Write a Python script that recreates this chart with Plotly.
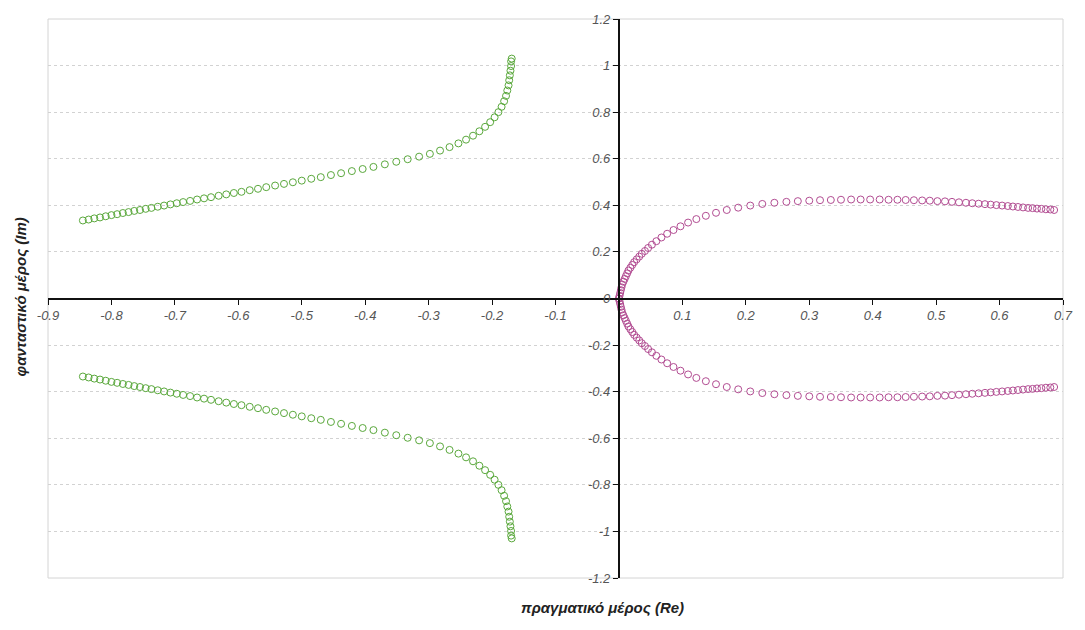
import plotly.graph_objects as go

# Green branch (upper)
green_up_x = [-0.845, -0.836, -0.827, -0.818, -0.809, -0.800, -0.791, -0.782, -0.773, -0.764,
              -0.755, -0.746, -0.737, -0.727, -0.717, -0.707, -0.697, -0.687, -0.676, -0.665,
              -0.654, -0.643, -0.631, -0.619, -0.607, -0.595, -0.582, -0.569, -0.556, -0.542,
              -0.528, -0.514, -0.500, -0.485, -0.470, -0.454, -0.438, -0.421, -0.404, -0.387,
              -0.369, -0.351, -0.333, -0.315, -0.298, -0.282, -0.267, -0.253, -0.241, -0.230,
              -0.220, -0.211, -0.203, -0.196, -0.190, -0.185, -0.181, -0.178, -0.176, -0.174,
              -0.173, -0.172, -0.171, -0.170, -0.170, -0.169]
green_up_y = [0.335, 0.339, 0.344, 0.348, 0.353, 0.358, 0.362, 0.367, 0.371, 0.376,
              0.380, 0.385, 0.389, 0.394, 0.399, 0.404, 0.409, 0.414, 0.419, 0.425,
              0.430, 0.435, 0.441, 0.447, 0.453, 0.458, 0.465, 0.471, 0.478, 0.485,
              0.492, 0.499, 0.506, 0.514, 0.521, 0.530, 0.538, 0.547, 0.556, 0.565,
              0.576, 0.587, 0.598, 0.609, 0.621, 0.635, 0.650, 0.666, 0.682, 0.699,
              0.718, 0.737, 0.757, 0.778, 0.800, 0.823, 0.847, 0.870, 0.893, 0.915,
              0.937, 0.958, 0.978, 0.998, 1.018, 1.030]

# Green branch (lower)
green_lo_x = [-0.845, -0.836, -0.827, -0.818, -0.809, -0.800, -0.791, -0.782, -0.773, -0.764,
              -0.755, -0.746, -0.737, -0.727, -0.717, -0.707, -0.697, -0.687, -0.676, -0.665,
              -0.654, -0.643, -0.631, -0.619, -0.607, -0.595, -0.582, -0.569, -0.556, -0.542,
              -0.528, -0.514, -0.500, -0.485, -0.470, -0.454, -0.438, -0.421, -0.404, -0.387,
              -0.369, -0.351, -0.333, -0.315, -0.298, -0.282, -0.267, -0.253, -0.241, -0.230,
              -0.220, -0.211, -0.203, -0.196, -0.190, -0.185, -0.181, -0.178, -0.176, -0.174,
              -0.173, -0.172, -0.171, -0.170, -0.170, -0.169]
green_lo_y = [-0.335, -0.339, -0.344, -0.348, -0.353, -0.358, -0.362, -0.367, -0.371, -0.376,
              -0.380, -0.385, -0.389, -0.394, -0.399, -0.404, -0.409, -0.414, -0.419, -0.425,
              -0.430, -0.435, -0.441, -0.447, -0.453, -0.458, -0.465, -0.471, -0.478, -0.485,
              -0.492, -0.499, -0.506, -0.514, -0.521, -0.530, -0.538, -0.547, -0.556, -0.565,
              -0.576, -0.587, -0.598, -0.609, -0.621, -0.635, -0.650, -0.666, -0.682, -0.699,
              -0.718, -0.737, -0.757, -0.778, -0.800, -0.823, -0.847, -0.870, -0.893, -0.915,
              -0.937, -0.958, -0.978, -0.998, -1.018, -1.030]

# Pink branch (upper)
pink_up_x = [0.000, 0.001, 0.002, 0.003, 0.004, 0.005, 0.007, 0.009, 0.011, 0.013,
             0.015, 0.018, 0.021, 0.024, 0.028, 0.032, 0.036, 0.041, 0.046, 0.052,
             0.059, 0.067, 0.076, 0.086, 0.097, 0.109, 0.122, 0.137, 0.153, 0.170,
             0.188, 0.207, 0.226, 0.245, 0.264, 0.282, 0.300, 0.317, 0.334, 0.350,
             0.366, 0.381, 0.396, 0.411, 0.425, 0.439, 0.452, 0.465, 0.478, 0.490,
             0.502, 0.514, 0.525, 0.536, 0.547, 0.557, 0.567, 0.577, 0.586, 0.595,
             0.604, 0.613, 0.621, 0.629, 0.637, 0.645, 0.652, 0.659, 0.666, 0.673,
             0.680, 0.686]
pink_up_y = [0.000, 0.012, 0.024, 0.036, 0.048, 0.060, 0.072, 0.084, 0.096, 0.108,
             0.120, 0.132, 0.144, 0.156, 0.168, 0.180, 0.192, 0.204, 0.217, 0.231,
             0.246, 0.262, 0.278, 0.294, 0.310, 0.326, 0.341, 0.355, 0.368, 0.380,
             0.390, 0.399, 0.406, 0.411, 0.415, 0.418, 0.420, 0.422, 0.423, 0.424,
             0.425, 0.425, 0.425, 0.425, 0.424, 0.424, 0.423, 0.422, 0.421, 0.420,
             0.418, 0.417, 0.415, 0.413, 0.411, 0.409, 0.407, 0.405, 0.403, 0.401,
             0.399, 0.397, 0.395, 0.393, 0.391, 0.389, 0.388, 0.386, 0.385, 0.383,
             0.382, 0.380]

# Pink branch (lower)
pink_lo_x = [0.000, 0.001, 0.002, 0.003, 0.004, 0.005, 0.007, 0.009, 0.011, 0.013,
             0.015, 0.018, 0.021, 0.024, 0.028, 0.032, 0.036, 0.041, 0.046, 0.052,
             0.059, 0.067, 0.076, 0.086, 0.097, 0.109, 0.122, 0.137, 0.153, 0.170,
             0.188, 0.207, 0.226, 0.245, 0.264, 0.282, 0.300, 0.317, 0.334, 0.350,
             0.366, 0.381, 0.396, 0.411, 0.425, 0.439, 0.452, 0.465, 0.478, 0.490,
             0.502, 0.514, 0.525, 0.536, 0.547, 0.557, 0.567, 0.577, 0.586, 0.595,
             0.604, 0.613, 0.621, 0.629, 0.637, 0.645, 0.652, 0.659, 0.666, 0.673,
             0.680, 0.686]
pink_lo_y = [-0.000, -0.012, -0.024, -0.036, -0.048, -0.060, -0.072, -0.084, -0.096, -0.108,
             -0.120, -0.132, -0.144, -0.156, -0.168, -0.180, -0.192, -0.204, -0.217, -0.231,
             -0.246, -0.262, -0.278, -0.294, -0.310, -0.326, -0.341, -0.355, -0.368, -0.380,
             -0.390, -0.399, -0.406, -0.411, -0.415, -0.418, -0.420, -0.422, -0.423, -0.424,
             -0.425, -0.425, -0.425, -0.425, -0.424, -0.424, -0.423, -0.422, -0.421, -0.420,
             -0.418, -0.417, -0.415, -0.413, -0.411, -0.409, -0.407, -0.405, -0.403, -0.401,
             -0.399, -0.397, -0.395, -0.393, -0.391, -0.389, -0.388, -0.386, -0.385, -0.383,
             -0.382, -0.380]

x_tickvals = [-0.9, -0.8, -0.7, -0.6, -0.5, -0.4, -0.3, -0.2, -0.1, 0.1, 0.2, 0.3, 0.4, 0.5, 0.6, 0.7]
x_ticktext = ["-0.9", "-0.8", "-0.7", "-0.6", "-0.5", "-0.4", "-0.3", "-0.2", "-0.1",
              "0.1", "0.2", "0.3", "0.4", "0.5", "0.6", "0.7"]
y_tickvals = [1.2, 1.0, 0.8, 0.6, 0.4, 0.2, 0.0, -0.2, -0.4, -0.6, -0.8, -1.0, -1.2]
y_ticktext = ["1.2", "1", "0.8", "0.6", "0.4", "0.2", "0", "-0.2", "-0.4", "-0.6", "-0.8", "-1", "-1.2"]

GREEN = "#5aa83c"
PINK = "#b24c92"

fig = go.Figure()
for xs, ys, col in [(green_up_x, green_up_y, GREEN), (green_lo_x, green_lo_y, GREEN),
                    (pink_up_x, pink_up_y, PINK), (pink_lo_x, pink_lo_y, PINK)]:
    fig.add_trace(go.Scatter(x=xs, y=ys, mode="markers",
                             marker=dict(symbol="circle-open", size=7, color=col,
                                         line=dict(width=1, color=col)),
                             showlegend=False, hoverinfo="x+y"))

tickfont = dict(family="Liberation Sans, Arial, sans-serif", size=13, color="#555555", style="italic")

fig.update_layout(
    width=1085, height=630,
    margin=dict(l=48, r=13, t=15, b=52),
    paper_bgcolor="white", plot_bgcolor="white",
    font=dict(family="Liberation Sans, Arial, sans-serif"),
    xaxis=dict(range=[-0.9, 0.7], anchor="free", position=0.5,
               tickvals=x_tickvals, ticktext=x_ticktext, tickfont=tickfont,
               showline=True, linecolor="#111111", linewidth=2,
               ticks="outside", ticklen=5, tickwidth=1, tickcolor="#111111",
               showgrid=False, zeroline=False, fixedrange=True),
    yaxis=dict(range=[-1.2, 1.2], anchor="free", position=0.5625,
               tickvals=y_tickvals, ticktext=y_ticktext, tickfont=tickfont,
               showline=True, linecolor="#111111", linewidth=2,
               ticks="outside", ticklen=5, tickwidth=1, tickcolor="#111111",
               showgrid=True, gridcolor="#d2d2d2", griddash="dot", gridwidth=1,
               zeroline=False, fixedrange=True),
    shapes=[dict(type="rect", xref="paper", yref="paper", x0=0, y0=0, x1=1, y1=1,
                 line=dict(color="#d4d4d4", width=1), layer="below")],
    annotations=[
        dict(text="πραγματικό μέρος (Re)", xref="paper", yref="paper",
             x=0.546, y=-0.053, xanchor="center", yanchor="middle", showarrow=False,
             font=dict(size=15, color="#222222", weight="bold", style="italic")),
        dict(text="φανταστικό μέρος (Im)", xref="paper", yref="paper",
             x=-0.027, y=0.503, xanchor="center", yanchor="middle", showarrow=False,
             textangle=-90,
             font=dict(size=15, color="#222222", weight="bold", style="italic")),
    ],
)

fig.write_html("out.html")
